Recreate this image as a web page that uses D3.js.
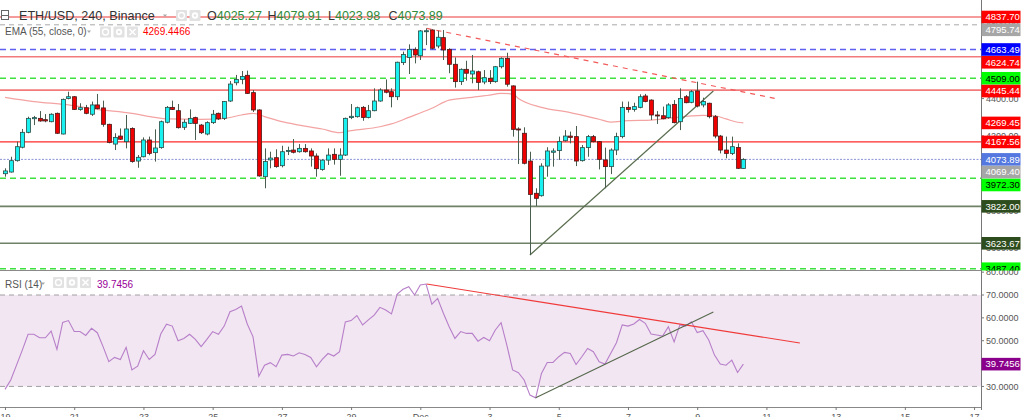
<!DOCTYPE html>
<html><head><meta charset="utf-8">
<script src="https://cdn.jsdelivr.net/npm/d3@7"></script>
<style>html,body{margin:0;padding:0;background:#fff;overflow:hidden}svg{display:block;font-family:"Liberation Sans",Arial,sans-serif}</style>
</head><body><svg id="c" width="1024" height="417"></svg>
<script>
// ---------------- DATA ----------------
const startUTC = Date.UTC(2021, 10, 19, 0, 0); // first 4h candle
const opens = [3997,4006,4067,4139,4219,4292,4294,4287,4276,4321,4210,4401,4410,4342,4351,4316,4366,4350,4262,4156,
4199,4169,4240,4065,4088,4178,4110,4137,4273,4353,4335,4246,4267,4298,4258,4210,4271,4321,4294,4387,
4485,4503,4525,4432,4339,3981,4071,4083,4040,4119,4124,4115,4133,4119,4092,4020,4070,4101,4074,4097,
4298,4303,4353,4299,4335,4387,4446,4437,4410,4593,4620,4664,4630,4761,4768,4682,4727,4664,4584,4491,
4557,4532,4544,4489,4509,4491,4571,4616,4468,4237,4214,4065,3892,3879,4038,4112,4121,4174,4199,4196,
4067,4137,4196,4169,4071,4035,4124,4196,4353,4342,4353,4414,4392,4312,4308,4298,4369,4276,4410,4380,
4441,4366,4375,4303,4199,4124,4106,4138,4025.27];
const highs = [4026,4088,4169,4237,4303,4307,4333,4317,4321,4325,4400,4437,4414,4375,4366,4384,4425,4389,4265,4214,
4240,4312,4246,4097,4192,4196,4235,4282,4360,4389,4371,4289,4342,4303,4264,4278,4339,4325,4387,4494,
4527,4548,4550,4446,4342,4133,4115,4128,4147,4142,4183,4156,4156,4133,4106,4074,4133,4133,4133,4298,
4371,4357,4360,4366,4455,4455,4503,4455,4598,4652,4691,4675,4768,4777,4772,4764,4768,4670,4621,4562,
4603,4634,4550,4553,4553,4575,4621,4646,4471,4246,4246,4115,3919,4053,4139,4133,4196,4231,4223,4253,
4151,4205,4205,4172,4137,4133,4217,4384,4384,4378,4423,4425,4396,4333,4357,4375,4392,4455,4419,4446,
4491,4405,4378,4312,4205,4196,4196,4160,4079.91];
const lows = [3981,4003,4062,4133,4214,4258,4276,4273,4273,4210,4208,4396,4339,4335,4316,4307,4342,4249,4160,4124,
4178,4133,4056,4029,4085,4096,4062,4131,4267,4339,4239,4232,4264,4178,4210,4203,4264,4285,4285,4382,
4471,4477,4425,4328,3981,3919,4026,4029,4031,4097,4106,4110,4110,4035,3981,4013,4044,4046,3986,4092,
4290,4298,4281,4294,4332,4383,4428,4353,4392,4580,4532,4589,4607,4687,4664,4670,4607,4536,4459,4473,
4496,4482,4446,4477,4478,4485,4562,4464,4196,4049,4047,3561,3824,3874,3981,4035,4071,4169,4160,4038,
4062,4088,4165,4020,3919,3995,4097,4187,4325,4330,4348,4380,4285,4264,4289,4292,4267,4231,4375,4375,
4353,4353,4294,4187,4106,4080,4097,4022,4023.98];
const closes = [4012,4067,4142,4219,4294,4298,4280,4280,4316,4214,4396,4410,4342,4351,4321,4366,4346,4262,4165,4192,
4182,4237,4062,4085,4178,4106,4135,4276,4353,4342,4244,4273,4294,4267,4217,4271,4316,4291,4384,4478,
4503,4518,4428,4339,3985,4062,4081,4035,4115,4122,4112,4133,4115,4092,4024,4070,4097,4074,4097,4294,
4305,4351,4299,4335,4387,4446,4434,4410,4595,4637,4664,4634,4763,4764,4670,4729,4661,4584,4491,4557,
4536,4548,4487,4512,4491,4571,4616,4477,4235,4232,4053,3886,3865,4038,4119,4119,4169,4199,4192,4065,
4137,4196,4169,4074,4035,4124,4196,4353,4342,4357,4410,4384,4312,4307,4292,4366,4271,4401,4378,4437,
4360,4384,4303,4199,4124,4106,4142,4026,4073.89];
const rsiValues = [28.7,32.8,39.3,45.9,52.8,52.8,51.3,51.3,54.2,46.2,58.0,58.8,54.0,54.0,52.3,55.4,53.5,47.4,40.8,42.7,
41.8,47.1,37.2,38.9,45.6,41.8,44.0,52.9,57.2,56.4,50.0,51.0,52.8,50.6,47.4,50.6,54.0,52.8,56.4,62.7,
63.7,65.2,57.3,51.7,34.5,39.3,40.4,38.6,43.7,44.0,43.3,44.7,44.0,42.7,38.6,41.8,44.4,43.3,45.2,58.2,
58.8,61.0,56.9,59.1,61.2,64.6,63.4,61.7,70.4,72.5,73.6,70.0,74.4,74.8,66.0,68.5,62.0,56.1,51.0,54.0,
53.2,53.2,49.8,51.4,50.0,54.7,57.9,48.1,37.2,36.0,32.8,26.2,25.0,35.7,40.5,40.5,43.0,44.9,44.4,39.6,
43.0,46.6,45.2,40.8,39.8,44.4,49.1,56.9,56.4,57.3,59.3,57.6,52.9,52.5,52.0,56.1,49.5,56.9,56.4,58.3,
53.6,54.4,50.3,43.7,39.8,39.3,41.5,36.1,39.7456];
const emaIdx = [0,5,11,16,22,26,28,34,38,41,43,45,48,51,55,58,60,65,67,70,74,77,81,84,86,88,89,93,98,103,105,108,112,115,119,121,123,125,127,128];
const emaVal = [4407,4384,4366,4342,4321,4299,4291,4289,4294,4312,4321,4303,4276,4258,4237,4217,4228,4249,4264,4299,4348,4392,4407,4419,4428,4425,4401,4353,4325,4289,4274,4282,4285,4294,4307,4310,4308,4291,4273,4269.45];
const levelPrices = [4837.70,4795.74,4663.49,4624.74,4509.00,4445.44,4167.56,4073.89,3972.30,3822.00,3623.67,3487.40];
const levelKinds  = ["res","gray","blue","res","green","res","red","last","green","sup","sup","green"];
const extraLabels = [{p:4269.45,kind:"ema"},{p:4069.40,kind:"gray"}];
const priceTicks = [4800,4600,4400,4200,4000,3800,3600];
const rsiTicks = [80,70,60,50,40,30];
const rsiBand = [30,70];
const dayTicks = [[2021,10,19],[2021,10,21],[2021,10,23],[2021,10,25],[2021,10,27],[2021,10,29],[2021,11,1],[2021,11,3],[2021,11,5],[2021,11,7],[2021,11,9],[2021,11,11],[2021,11,13],[2021,11,15],[2021,11,17]];
const dayLabels = ["19","21","23","25","27","29","Dec","3","5","7","9","11","13","15","17"];
const priceTrendDown = [[73.1,4777],[134,4398]];
const priceTrendUp = [[91,3561],[122.8,4441]];
const rsiTrendDown = [[73.1,74.8],[137.8,49.0]];
const rsiTrendUp = [[92,25.0],[122.8,62.6]];
const header = {sym:"ETH/USD, 240, Binance", o:"4025.27", h:"4079.91", l:"4023.98", c:"4073.89", ema:"EMA (55, close, 0)", emaV:"4269.4466", rsi:"RSI (14)", rsiV:"39.7456"};

// ---------------- LAYOUT ----------------
const plotR = 981, mainTop = 0, mainBot = 270.5, rsiTop = 271, rsiBot = 407;
const svg = d3.select("#c");
const H4 = 4*3600*1000;
const tOf = i => new Date(startUTC + i*H4);

const x = d3.scaleUtc().domain([new Date(Date.UTC(2021,10,18,20,32)), new Date(Date.UTC(2021,11,17,4,48))]).range([0, plotR]);
const y = d3.scaleLinear().domain([3477.8, 4928.9]).range([mainBot, mainTop]);
const yr = d3.scaleLinear().domain([21, 80.5]).range([rsiBot, rsiTop]);

const defs = svg.append("defs");
defs.append("clipPath").attr("id","cm").append("rect").attr("x",0).attr("y",mainTop).attr("width",plotR).attr("height",mainBot-mainTop);
defs.append("clipPath").attr("id","cr").append("rect").attr("x",0).attr("y",rsiTop).attr("width",plotR).attr("height",rsiBot-rsiTop);
defs.append("clipPath").attr("id","cl").append("rect").attr("x",plotR).attr("y",0).attr("width",60).attr("height",mainBot);

// ---------------- RSI PANEL ----------------
const gr = svg.append("g").attr("clip-path","url(#cr)");
gr.append("rect").attr("x",0).attr("width",plotR).attr("y",yr(rsiBand[1])).attr("height",yr(rsiBand[0])-yr(rsiBand[1])).attr("fill","#f2e6f2");
rsiBand.forEach(v=>gr.append("line").attr("x1",0).attr("x2",plotR).attr("y1",yr(v)).attr("y2",yr(v)).attr("stroke","#a0a0a0").attr("stroke-dasharray","5,4"));
const rsiLine = d3.line().x((d,i)=>x(tOf(i))).y(d=>yr(d));
gr.append("path").attr("d",rsiLine(rsiValues)).attr("fill","none").attr("stroke","#b77fc9").attr("stroke-width",1.1);
const tl = d3.line().x(d=>x(tOf(d[0])));
gr.append("path").attr("d",tl.y(d=>yr(d[1]))(rsiTrendDown)).attr("stroke","#f03a3a").attr("stroke-width",1.1).attr("fill","none");
gr.append("path").attr("d",tl.y(d=>yr(d[1]))(rsiTrendUp)).attr("stroke","#56684c").attr("stroke-width",1.1).attr("fill","none");

// ---------------- MAIN PANEL ----------------
const gm = svg.append("g").attr("clip-path","url(#cm)");
const lvlStyle = {
  res:{s:"#f27a7a",w:1.6,d:null}, gray:{s:"#a8a8a8",w:1,d:"5,4"}, blue:{s:"#6060f0",w:1.4,d:"6,4"},
  green:{s:"#3ee23e",w:1.4,d:"6,4"}, red:{s:"#ff2a2a",w:1.1,d:null}, last:{s:"#8a93d8",w:1,d:"2,1.5"},
  sup:{s:"#6f8166",w:1.6,d:null}
};
levelPrices.forEach((p,i)=>{
  const st = lvlStyle[levelKinds[i]];
  gm.append("line").attr("x1",0).attr("x2",plotR).attr("y1",y(p)).attr("y2",y(p))
    .attr("stroke",st.s).attr("stroke-width",st.w).attr("stroke-dasharray",st.d);
});
// EMA
const emaLine = d3.line().curve(d3.curveMonotoneX).x(d=>x(tOf(d[0]))).y(d=>y(d[1]));
gm.append("path").attr("d",emaLine(emaIdx.map((k,i)=>[k,emaVal[i]]))).attr("fill","none").attr("stroke","#f4a3a3").attr("stroke-width",1.2);
// trendlines
gm.append("path").attr("d",tl.y(d=>y(d[1]))(priceTrendDown)).attr("stroke","#f35a5a").attr("stroke-width",1.2).attr("stroke-dasharray","5,5").attr("fill","none");
gm.append("path").attr("d",tl.y(d=>y(d[1]))(priceTrendUp)).attr("stroke","#5a6e50").attr("stroke-width",1.2).attr("fill","none");
// candles
const candles = opens.map((o,i)=>({i,o,h:highs[i],l:lows[i],c:closes[i]}));
const cg = gm.append("g");
cg.selectAll("line.w").data(candles).join("line").attr("class","w")
  .attr("x1",d=>Math.round(x(tOf(d.i)))+0.5).attr("x2",d=>Math.round(x(tOf(d.i)))+0.5)
  .attr("y1",d=>y(d.h)).attr("y2",d=>y(d.l)).attr("stroke","#4a5e50").attr("stroke-width",1);
cg.selectAll("rect.b").data(candles).join("rect").attr("class","b")
  .attr("x",d=>Math.round(x(tOf(d.i)))-1.5).attr("width",4)
  .attr("y",d=>y(Math.max(d.o,d.c))).attr("height",d=>Math.max(1,Math.abs(y(d.o)-y(d.c))))
  .attr("fill",d=>d.c>=d.o?"#19f0f0":"#ee0000").attr("stroke",d=>d.c>=d.o?"#2a4a44":"#4a1a1a").attr("stroke-width",0.8);

// panel divider
svg.append("line").attr("x1",0).attr("x2",plotR).attr("y1",270.5).attr("y2",270.5).attr("stroke","#8a8a8a");

// ---------------- AXES ----------------
const fmt2 = d3.format(".2f"), fmt4 = d3.format(".4f");
const ax = svg.append("g").attr("font-size","9px").attr("fill","#555");
svg.append("line").attr("x1",plotR+0.5).attr("x2",plotR+0.5).attr("y1",0).attr("y2",rsiBot+3).attr("stroke","#777");
priceTicks.forEach(v=>{
  ax.append("line").attr("x1",plotR).attr("x2",plotR+3).attr("y1",y(v)).attr("y2",y(v)).attr("stroke","#777");
  ax.append("text").attr("x",plotR+5).attr("y",y(v)+3.2).text(fmt2(v));
});
rsiTicks.forEach(v=>{
  ax.append("line").attr("x1",plotR).attr("x2",plotR+3).attr("y1",yr(v)).attr("y2",yr(v)).attr("stroke","#777");
  ax.append("text").attr("x",plotR+5).attr("y",yr(v)+3.2).text(fmt4(v));
});
// x axis
const xa = svg.append("g").attr("transform",`translate(0,${rsiBot})`)
  .call(d3.axisBottom(x).tickValues(dayTicks.map(a=>new Date(Date.UTC(a[0],a[1],a[2])))).tickFormat((d,i)=>dayLabels[i]).tickSize(3).tickPadding(4));
xa.select(".domain").attr("stroke","#888").attr("d",`M0,0.5H${plotR}`);
xa.selectAll(".tick line").attr("stroke","#777");
xa.selectAll("text").attr("font-size","9px").attr("fill","#555").attr("font-family","Liberation Sans, Arial, sans-serif");

// price labels on axis
const lblStyle = {res:["#ff0000","#fff"],gray:["#a6a6a6","#fff"],blue:["#0000ff","#fff"],green:["#00ff00","#000"],red:["#ff0000","#fff"],last:["#5478e0","#fff"],sup:["#2e4d1e","#fff"],ema:["#ff0000","#fff"]};
let labels = levelPrices.map((p,i)=>({p,kind:levelKinds[i]})).concat(extraLabels);
labels.forEach(l=>l.yy=y(l.p));
labels.sort((a,b)=>a.yy-b.yy);
let prev = -1e9;
labels.forEach(l=>{ if(l.yy<prev+12.8) l.yy=prev+12.8; prev=l.yy; });
const lg = svg.append("g").attr("clip-path","url(#cl)");
labels.forEach(l=>{
  const s = lblStyle[l.kind];
  lg.append("rect").attr("x",plotR+0.5).attr("y",l.yy-6.3).attr("width",39).attr("height",12.6).attr("fill",s[0]);
  lg.append("text").attr("x",plotR+4.5).attr("y",l.yy+3.3).attr("font-size","9.5px").attr("fill",s[1]).text(fmt2(l.p));
});
// rsi value label
const rv = rsiValues[rsiValues.length-1];
svg.append("rect").attr("x",plotR+0.5).attr("y",yr(rv)-6.3).attr("width",39).attr("height",12.6).attr("fill","#8b008b");
svg.append("text").attr("x",plotR+4.5).attr("y",yr(rv)+3.3).attr("font-size","9.5px").attr("fill","#fff").text(fmt4(rv));

// ---------------- HEADERS ----------------
function icons(x0, y0, n){
  for(let k=0;k<n;k++){
    const bx = x0 + k*13.5;
    svg.append("rect").attr("x",bx).attr("y",y0).attr("width",11).attr("height",11).attr("fill","#e2e2e2").attr("rx",1);
    if(k===0){ svg.append("circle").attr("cx",bx+5.5).attr("cy",y0+5.5).attr("r",3).attr("fill","none").attr("stroke","#fff").attr("stroke-width",1.4); }
    if(k===1){ svg.append("circle").attr("cx",bx+5.5).attr("cy",y0+5.5).attr("r",3.2).attr("fill","#fff"); svg.append("circle").attr("cx",bx+5.5).attr("cy",y0+5.5).attr("r",1.3).attr("fill","#e2e2e2"); }
    if(k===2){ svg.append("path").attr("d",`M${bx+2.5},${y0+2.5}L${bx+8.5},${y0+8.5}M${bx+8.5},${y0+2.5}L${bx+2.5},${y0+8.5}`).attr("stroke","#fff").attr("stroke-width",1.5); }
  }
}
const hd = svg.append("g");
hd.append("rect").attr("x",1.5).attr("y",10.5).attr("width",7).attr("height",9).attr("fill","#fff").attr("stroke","#666");
hd.append("line").attr("x1",1.5).attr("x2",8.5).attr("y1",15.5).attr("y2",15.5).attr("stroke","#666");
hd.append("text").attr("x",19).attr("y",20).attr("font-size","12.6px").attr("fill","#333").text(header.sym);
hd.append("path").attr("d","M163,14.5l4,0l-2,2.5z").attr("fill","#aaa");
icons(176,10,2);
const ohlc = [["O",header.o],["H",header.h],["L",header.l],["C",header.c]];
ohlc.forEach((a,k)=>{
  const t = hd.append("text").attr("x",207+k*60.5).attr("y",20).attr("font-size","12.5px");
  t.append("tspan").attr("fill","#333").text(a[0]);
  t.append("tspan").attr("fill","#2f8a3a").text(a[1]);
});
hd.append("text").attr("x",5).attr("y",35).attr("font-size","10px").attr("fill","#555").text(header.ema);
hd.append("path").attr("d","M87,30.5l4,0l-2,2.5z").attr("fill","#aaa");
icons(100,26.5,3);
hd.append("text").attr("x",143).attr("y",35).attr("font-size","10px").attr("fill","#ff0000").text(header.emaV);
hd.append("text").attr("x",5).attr("y",288).attr("font-size","10px").attr("fill","#555").text(header.rsi);
hd.append("path").attr("d","M41,282.5l4,0l-2,2.5z").attr("fill","#aaa");
icons(53,277,3);
hd.append("text").attr("x",97).attr("y",288).attr("font-size","10px").attr("fill","#990099").text(header.rsiV);
</script></body></html>
